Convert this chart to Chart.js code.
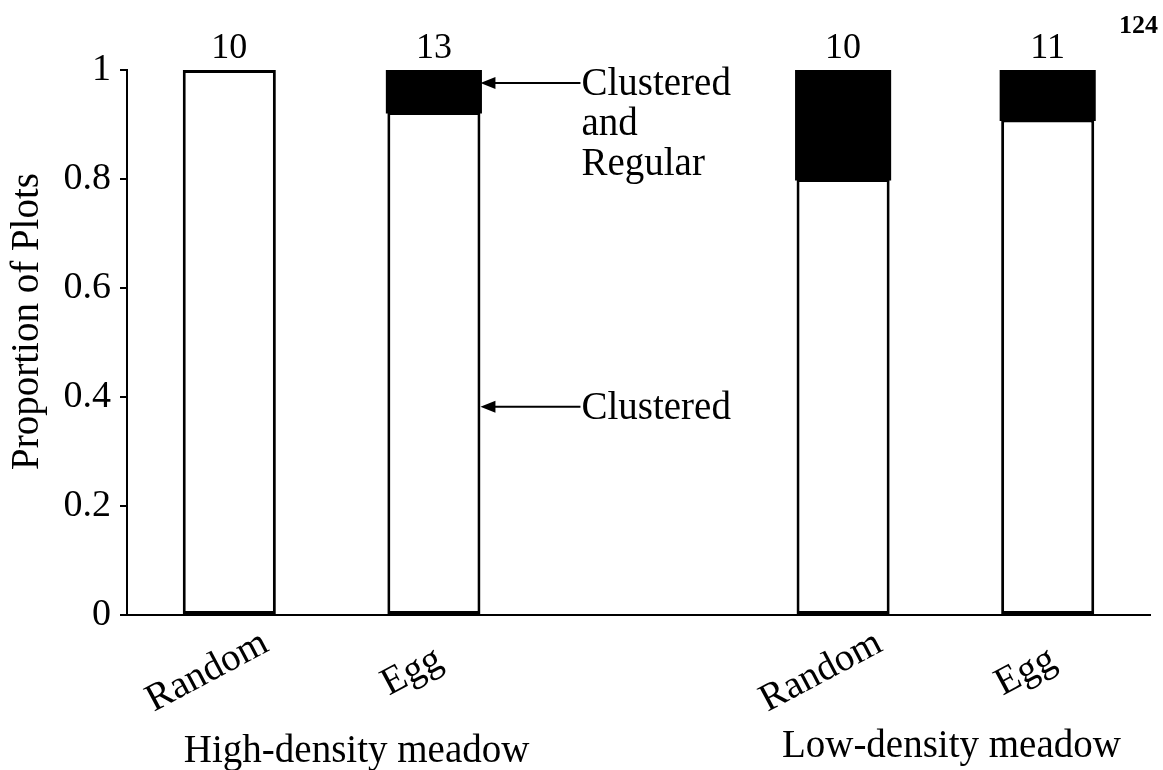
<!DOCTYPE html>
<html>
<head>
<meta charset="utf-8">
<script src="https://cdn.jsdelivr.net/npm/chart.js@4/dist/chart.umd.min.js"></script>
<style>
  html, body { margin: 0; padding: 0; background: #fff; }
  #wrap { width: 1163px; height: 770px; }
</style>
</head>
<body>
<div id="wrap"><canvas id="c" width="1163" height="770"></canvas></div>
<script>
// Plot-pattern categories (the empty slot separates the two meadows)
const categories = ['Random', 'Egg', '', 'Random', 'Egg'];
const meadowOfCategory = [0, 0, null, 1, 1];
const meadowNames = ['High-density meadow', 'Low-density meadow'];

// Proportion of plots per pattern
const clustered = [1.0, 0.923, null, 0.8, 0.909];
const clusteredAndRegular = [0, 0.077, null, 0.2, 0.091];

// Number of plots in each treatment
const plotCounts = [10, 13, null, 10, 11];

// Y-axis ticks
const yTicks = [0, 0.2, 0.4, 0.6, 0.8, 1];

const SERIF = '"Liberation Serif", "Times New Roman", serif';
const BIG = 39;

const annotations = [
  { lines: ['Clustered', 'and', 'Regular'], barIndex: 1, value: 0.976 },
  { lines: ['Clustered'], barIndex: 1, value: 0.382 }
];

const overlay = {
  id: 'overlay',
  afterDraw(chart) {
    const ctx = chart.ctx;
    const x = chart.scales.x, y = chart.scales.y;
    const top = chart.getDatasetMeta(1);
    ctx.save();
    ctx.fillStyle = '#000';
    ctx.strokeStyle = '#000';

    // axis title
    ctx.save();
    ctx.font = `${BIG}px ${SERIF}`;
    ctx.translate(28, (y.top + y.bottom) / 2 - 21);
    ctx.rotate(-Math.PI / 2);
    ctx.textAlign = 'center';
    ctx.textBaseline = 'middle';
    ctx.fillText('Proportion of Plots', 0, 0);
    ctx.restore();

    // counts above the bars
    ctx.font = `36px ${SERIF}`;
    ctx.textAlign = 'center';
    ctx.textBaseline = 'alphabetic';
    plotCounts.forEach((n, i) => {
      if (n == null) return;
      const el = top.data[i];
      ctx.fillText(String(n), el.x, y.getPixelForValue(1) - 12);
    });

    // rotated category labels
    ctx.font = `${BIG}px ${SERIF}`;
    categories.forEach((c, i) => {
      if (!c) return;
      const px = x.getPixelForValue(i);
      ctx.save();
      ctx.translate(px - 22, y.bottom + 57);
      ctx.rotate(-28 * Math.PI / 180);
      ctx.textAlign = 'center';
      ctx.textBaseline = 'middle';
      ctx.fillText(c, 0, 0);
      ctx.restore();
    });

    // meadow group labels
    const groupShift = [25, 6];
    const groupBaseline = [762, 757];
    ctx.textAlign = 'center';
    ctx.textBaseline = 'alphabetic';
    meadowNames.forEach((name, g) => {
      const idx = meadowOfCategory.map((m, i) => m === g ? i : -1).filter(i => i >= 0);
      const mid = (x.getPixelForValue(idx[0]) + x.getPixelForValue(idx[idx.length - 1])) / 2;
      ctx.fillText(name, mid + groupShift[g], groupBaseline[g]);
    });

    // arrows with pattern labels
    ctx.lineWidth = 2;
    annotations.forEach(a => {
      const el = top.data[a.barIndex];
      const tipX = el.x + el.width / 2;
      const ay = y.getPixelForValue(a.value);
      const startX = tipX + 100;
      ctx.beginPath();
      ctx.moveTo(startX, ay);
      ctx.lineTo(tipX + 12, ay);
      ctx.stroke();
      ctx.beginPath();
      ctx.moveTo(tipX, ay);
      ctx.lineTo(tipX + 15, ay - 6);
      ctx.lineTo(tipX + 15, ay + 6);
      ctx.closePath();
      ctx.fill();
      ctx.textAlign = 'left';
      ctx.textBaseline = 'alphabetic';
      a.lines.forEach((t, k) => ctx.fillText(t, startX + 1, ay + 12 + k * 40));
    });

    // page number
    ctx.font = `bold 26px ${SERIF}`;
    ctx.textAlign = 'right';
    ctx.fillText('124', 1158, 33);
    ctx.restore();
  }
};

new Chart(document.getElementById('c'), {
  type: 'bar',
  data: {
    labels: categories,
    datasets: [
      {
        label: 'Clustered',
        data: clustered,
        backgroundColor: '#fff',
        borderColor: '#000',
        borderWidth: 3,
        borderSkipped: false,
        barPercentage: 0.455,
        categoryPercentage: 1
      },
      {
        label: 'Clustered and Regular',
        data: clusteredAndRegular,
        backgroundColor: '#000',
        borderColor: '#000',
        borderWidth: 0,
        inflateAmount: c => (c.raw > 0 ? 1.5 : 0),
        barPercentage: 0.455,
        categoryPercentage: 1
      }
    ]
  },
  options: {
    responsive: false,
    animation: false,
    layout: { padding: { top: 70, right: 13, left: 0, bottom: 0 } },
    plugins: { legend: { display: false }, tooltip: { enabled: false } },
    scales: {
      x: {
        stacked: true,
        ticks: { display: false },
        grid: { display: false },
        border: { display: true, color: '#000', width: 2 },
        afterFit: s => { s.height = 155; }
      },
      y: {
        stacked: true,
        min: 0,
        max: 1,
        afterBuildTicks: s => { s.ticks = yTicks.map(v => ({ value: v })); },
        ticks: {
          color: '#000',
          padding: 9,
          font: { family: SERIF, size: 38 },
          callback: v => String(v)
        },
        grid: { drawOnChartArea: false, tickLength: 7, color: '#000', lineWidth: 2 },
        border: { display: true, color: '#000', width: 2 },
        title: { display: false },
        afterFit: s => { s.width = 127; }
      }
    }
  },
  plugins: [overlay]
});
</script>
</body>
</html>
